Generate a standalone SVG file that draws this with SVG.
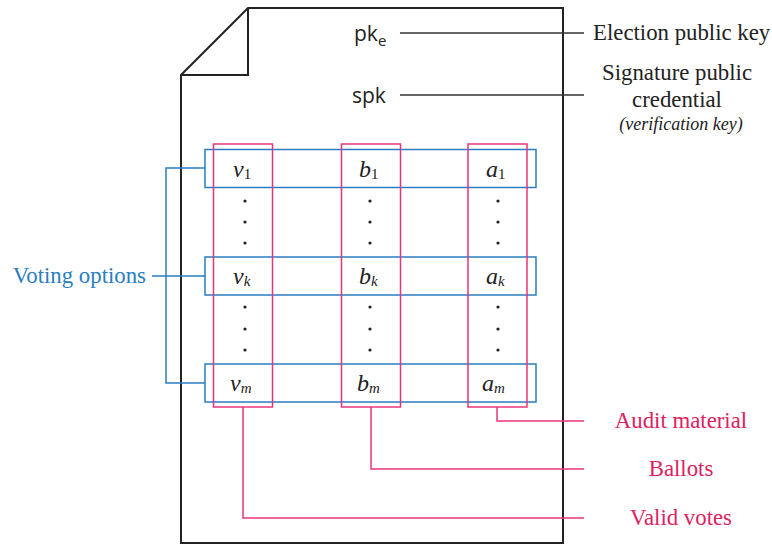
<svg xmlns="http://www.w3.org/2000/svg" width="772" height="545" viewBox="0 0 772 545">
<style>
.doc{fill:none;stroke:#222;stroke-width:2}
.k{stroke:#333;stroke-width:1.4;fill:none}
.b{stroke:#2a7dc1;stroke-width:1.5;fill:none}
.p{stroke:#e8347c;stroke-width:1.5;fill:none}
.sans{font-family:"Open Sans","DejaVu Sans",sans-serif;font-size:21px;fill:#222}
.ser{font-family:"Liberation Serif","Times New Roman",serif;font-size:22.8px;fill:#222}
.note{font-family:"Liberation Serif","Times New Roman",serif;font-size:18px;font-style:italic;fill:#222}
.math{font-family:"Liberation Serif","Times New Roman",serif;font-style:italic;font-size:24px;fill:#222}
.sub{font-size:15px}
.bt{fill:#2a7dc1}
.pt{fill:#e0215f}
</style>
<g id="document">
<path class="doc" d="M181,543 V75 L248,8 H563 V543 Z"/>
<path class="doc" d="M248,8 V75 H181"/>
</g>
<g id="keys">
<text class="sans" x="354" y="41">pk<tspan class="sub" dy="5">e</tspan></text>
<text class="sans" x="352" y="103">spk</text>
</g>
<g id="rows">
<rect class="b" x="205" y="149.5" width="331" height="38"/>
<rect class="b" x="205" y="257" width="331" height="38"/>
<rect class="b" x="205" y="364" width="331" height="38"/>
</g>
<g id="columns">
<rect class="p" x="213.5" y="144" width="59" height="263"/>
<rect class="p" x="341.5" y="144" width="59" height="263"/>
<rect class="p" x="468" y="144" width="59" height="263"/>
</g>
<g id="cells">
<text class="math" x="233" y="177">v<tspan class="sub" font-style="normal" dy="2">1</tspan></text>
<text class="math" x="359" y="177">b<tspan class="sub" font-style="normal" dy="2">1</tspan></text>
<text class="math" x="486" y="177">a<tspan class="sub" font-style="normal" dy="2">1</tspan></text>
<text class="math" x="233" y="284">v<tspan class="sub" dy="2">k</tspan></text>
<text class="math" x="359" y="284">b<tspan class="sub" dy="2">k</tspan></text>
<text class="math" x="486" y="284">a<tspan class="sub" dy="2">k</tspan></text>
<text class="math" x="230" y="391">v<tspan class="sub" dy="2">m</tspan></text>
<text class="math" x="357" y="391">b<tspan class="sub" dy="2">m</tspan></text>
<text class="math" x="482" y="391">a<tspan class="sub" dy="2">m</tspan></text>
<g fill="#222">
<circle cx="245" cy="201" r="1.6"/><circle cx="245" cy="222" r="1.6"/><circle cx="245" cy="243" r="1.6"/>
<circle cx="245" cy="307" r="1.6"/><circle cx="245" cy="329" r="1.6"/><circle cx="245" cy="350" r="1.6"/>
<circle cx="370" cy="201" r="1.6"/><circle cx="370" cy="222" r="1.6"/><circle cx="370" cy="243" r="1.6"/>
<circle cx="370" cy="307" r="1.6"/><circle cx="370" cy="329" r="1.6"/><circle cx="370" cy="350" r="1.6"/>
<circle cx="498" cy="201" r="1.6"/><circle cx="498" cy="222" r="1.6"/><circle cx="498" cy="243" r="1.6"/>
<circle cx="498" cy="307" r="1.6"/><circle cx="498" cy="329" r="1.6"/><circle cx="498" cy="350" r="1.6"/>
</g>
</g>
<g id="connectors">
<path class="k" d="M400,33 H584"/>
<path class="k" d="M400,95 H584"/>
<path class="b" d="M205,168 H166 V383 H205"/>
<path class="b" d="M152,276 H205"/>
<path class="p" d="M497,407 V421 H584"/>
<path class="p" d="M371,407 V469 H584"/>
<path class="p" d="M243,407 V518 H584"/>
</g>
<g id="labels">
<text class="ser" x="593" y="40">Election public key</text>
<text class="ser" x="677" y="80" text-anchor="middle">Signature public</text>
<text class="ser" x="677" y="107" text-anchor="middle">credential</text>
<text class="note" x="681" y="130" text-anchor="middle">(verification key)</text>
<text class="ser bt" x="146" y="283" text-anchor="end">Voting options</text>
<text class="ser pt" x="681" y="428" text-anchor="middle">Audit material</text>
<text class="ser pt" x="681" y="476" text-anchor="middle">Ballots</text>
<text class="ser pt" x="681" y="525" text-anchor="middle">Valid votes</text>
</g>
</svg>
